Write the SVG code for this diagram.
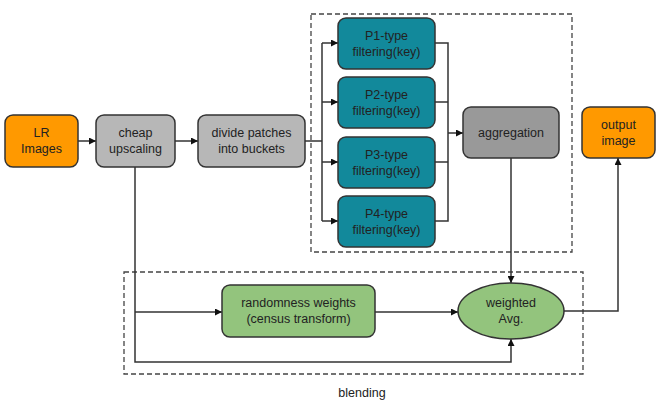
<svg xmlns="http://www.w3.org/2000/svg" width="663" height="408" viewBox="0 0 663 408">
<style>
.box{stroke:#333;stroke-width:1.5}
.orange{fill:#ff9900}
.lgray{fill:#b7b7b7}
.dgray{fill:#999999}
.teal{fill:#12899b}
.green{fill:#93c47d}
text{font-family:"Liberation Sans",Arial,sans-serif;font-size:12.5px;fill:#222;text-anchor:middle}
.conn{fill:none;stroke:#333;stroke-width:1.5}
.dash{fill:none;stroke:#444;stroke-width:1.3;stroke-dasharray:5,3}
</style>
<defs>
<marker id="ah" viewBox="0 0 10 10" refX="10" refY="5" markerWidth="7" markerHeight="7" markerUnits="userSpaceOnUse" orient="auto">
<path d="M0,0 L10,5 L0,10 z" fill="#111"/>
</marker>
</defs>
<rect class="dash" x="311" y="14" width="261" height="238"/>
<rect class="dash" x="124" y="272" width="459" height="102"/>
<text x="362" y="397">blending</text>
<g id="connectors">
<path class="conn" d="M78,141 H96" marker-end="url(#ah)"/>
<path class="conn" d="M175,141 H198" marker-end="url(#ah)"/>
<path class="conn" d="M305,141 H322"/>
<path class="conn" d="M322,43 V221"/>
<path class="conn" d="M322,43 H338" marker-end="url(#ah)"/>
<path class="conn" d="M322,102 H338" marker-end="url(#ah)"/>
<path class="conn" d="M322,162 H338" marker-end="url(#ah)"/>
<path class="conn" d="M322,221 H338" marker-end="url(#ah)"/>
<path class="conn" d="M435,43 H448 V221 H435"/>
<path class="conn" d="M435,102 H448"/>
<path class="conn" d="M435,162 H448"/>
<path class="conn" d="M448,133 H463" marker-end="url(#ah)"/>
<path class="conn" d="M511,158 V283" marker-end="url(#ah)"/>
<path class="conn" d="M135,167 V362 H511 V339" marker-end="url(#ah)"/>
<path class="conn" d="M135,312 H222" marker-end="url(#ah)"/>
<path class="conn" d="M375,312 H458" marker-end="url(#ah)"/>
<path class="conn" d="M564,311 H618 V158" marker-end="url(#ah)"/>
</g>
<g id="lr"><rect class="box orange" x="5" y="115" width="73" height="52" rx="8"/><text x="41.5" y="137">LR</text><text x="41.5" y="153">Images</text></g>
<g id="cheap"><rect class="box lgray" x="96" y="115" width="79" height="52" rx="8"/><text x="135.5" y="137">cheap</text><text x="135.5" y="153">upscaling</text></g>
<g id="divide"><rect class="box lgray" x="198" y="115" width="107" height="52" rx="8"/><text x="251.5" y="137">divide patches</text><text x="251.5" y="153">into buckets</text></g>
<g id="p1"><rect class="box teal" x="338" y="18" width="97" height="51" rx="8"/><text x="386.5" y="40">P1-type</text><text x="386.5" y="56">filtering(key)</text></g>
<g id="p2"><rect class="box teal" x="338" y="77" width="97" height="51" rx="8"/><text x="386.5" y="99">P2-type</text><text x="386.5" y="115">filtering(key)</text></g>
<g id="p3"><rect class="box teal" x="338" y="137" width="97" height="51" rx="8"/><text x="386.5" y="159">P3-type</text><text x="386.5" y="175">filtering(key)</text></g>
<g id="p4"><rect class="box teal" x="338" y="196" width="97" height="51" rx="8"/><text x="386.5" y="218">P4-type</text><text x="386.5" y="234">filtering(key)</text></g>
<g id="aggregation"><rect class="box dgray" x="463" y="107" width="96" height="51" rx="8"/><text x="511" y="137">aggregation</text></g>
<g id="output"><rect class="box orange" x="582" y="107" width="73" height="51" rx="8"/><text x="618.5" y="129">output</text><text x="618.5" y="145">image</text></g>
<g id="randomness"><rect class="box green" x="222" y="285" width="153" height="52" rx="8"/><text x="298.5" y="307">randomness weights</text><text x="298.5" y="323">(census transform)</text></g>
<g id="weighted"><ellipse class="box green" cx="511" cy="311" rx="53" ry="28"/><text x="511" y="307">weighted</text><text x="511" y="323">Avg.</text></g>
</svg>
